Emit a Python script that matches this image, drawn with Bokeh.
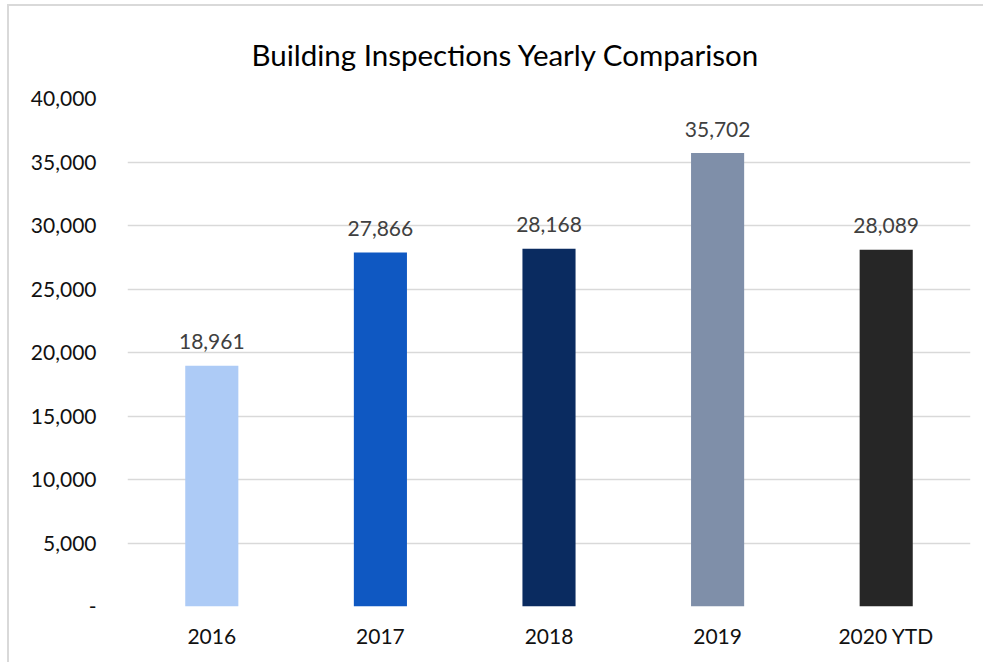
from bokeh.plotting import figure
from bokeh.models import FactorRange, Range1d, FixedTicker, ColumnDataSource
from bokeh.core.properties import value
from bokeh.embed import file_html
from bokeh.resources import INLINE

categories = ["2016", "2017", "2018", "2019", "2020 YTD"]
values = [18961, 27866, 28168, 35702, 28089]
bar_colors = ["#ADCBF6", "#0F58C2", "#0A2B60", "#7F8FA9", "#262626"]
value_labels = ["18,961", "27,866", "28,168", "35,702", "28,089"]
y_ticks = [0, 5000, 10000, 15000, 20000, 25000, 30000, 35000, 40000]
y_tick_labels = ["-", "5,000", "10,000", "15,000", "20,000", "25,000", "30,000", "35,000", "40,000"]
title_text = "Building Inspections Yearly Comparison"

FONT = "Lato"

source = ColumnDataSource(dict(cat=categories, val=values, color=bar_colors, lab=value_labels))

p = figure(
    width=976, height=658,
    x_range=FactorRange(factors=categories, range_padding=0),
    y_range=Range1d(0, 40000),
    output_backend="svg", toolbar_location=None,
    min_border_left=118, min_border_right=15, min_border_top=92, min_border_bottom=58,
)
p.styles = {"border-left": "2px solid #D9D9D9", "border-top": "2px solid #D9D9D9",
            "margin-left": "7px", "margin-top": "4px"}
p.outline_line_color = None
p.background_fill_color = "white"
p.border_fill_color = "white"

p.title.text = title_text
p.title.align = "left"
p.title.offset = 124
p.title.standoff = 54
p.title.vertical_align = "bottom"
p.title.text_font = FONT
p.title.text_font_size = "29.5px"
p.title.text_font_style = "normal"
p.title.text_color = "#000000"

p.vbar(x="cat", top="val", width=0.315, color="color", source=source, line_color=None)

p.text(x="cat", y="val", text="lab", source=source, text_align="center",
       text_baseline="alphabetic", y_offset=-24, text_color="#404040",
       text_font=value(FONT), text_font_size="21px")

# axes
p.yaxis.ticker = FixedTicker(ticks=y_ticks)
p.yaxis.major_label_overrides = {t: l for t, l in zip(y_ticks, y_tick_labels)}
for ax in (p.xaxis[0], p.yaxis[0]):
    ax.axis_line_color = None
    ax.major_tick_line_color = None
    ax.minor_tick_line_color = None
    ax.major_label_text_font = FONT
    ax.major_label_text_font_size = "21px"
    ax.major_label_text_color = "#111111"
p.yaxis.major_label_standoff = 25
p.xaxis.major_label_standoff = 10

p.xgrid.grid_line_color = None
p.ygrid.grid_line_color = "#D9D9D9"
p.ygrid.grid_line_width = 1.5

open("out.html", "w").write(file_html(p, INLINE))
